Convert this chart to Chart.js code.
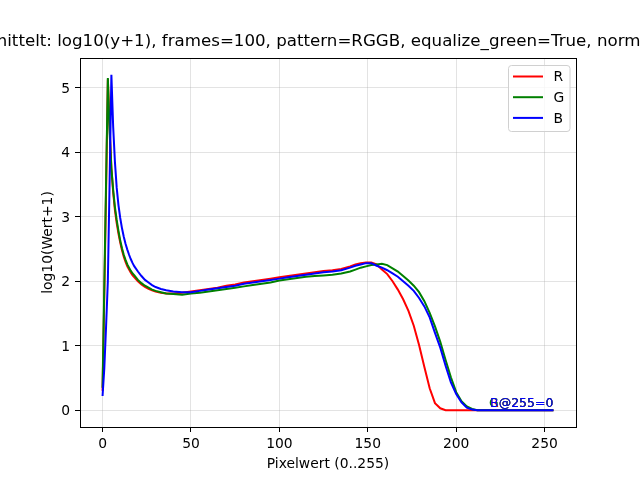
<!DOCTYPE html>
<html>
<head>
<meta charset="utf-8">
<title>Histogramm gemittelt</title>
<script src="https://cdn.jsdelivr.net/npm/chart.js@4.4.1/dist/chart.umd.min.js"></script>
<style>
  html, body { margin: 0; padding: 0; background: #fff; }
  #wrap { width: 640px; height: 480px; }
</style>
</head>
<body>
<div id="wrap"><canvas id="histChart"></canvas></div>
<script>
// ------------------------------------------------------------
// Data (pixel value -> log10(count+1))
// ------------------------------------------------------------
const pixelValues = [
    0, 1, 2, 3, 4, 5, 6, 7, 8, 9, 10, 11, 12, 13, 14, 15, 16, 17, 18, 20,
    22, 24, 26, 28, 30, 33, 36, 40, 45, 50, 55, 60, 65, 70, 75, 80, 85, 90, 95, 100,
    105, 110, 115, 120, 125, 130, 135, 140, 143, 146, 149, 152, 155, 158, 161, 164, 167, 170, 173, 176,
    179, 182, 185, 188, 191, 194, 197, 200, 203, 206, 209, 212, 215, 220, 230, 240, 250, 255
];
const redValues = [
    0.30, 1.80, 3.40, 5.13, 4.40, 3.75, 3.38, 3.10, 2.90, 2.74, 2.60, 2.48, 2.38, 2.30, 2.23, 2.18, 2.13, 2.09, 2.06, 2.00,
    1.95, 1.91, 1.88, 1.86, 1.84, 1.82, 1.81, 1.81, 1.82, 1.84, 1.86, 1.88, 1.90, 1.93, 1.95, 1.98, 2.00, 2.02, 2.04, 2.06,
    2.08, 2.10, 2.12, 2.14, 2.16, 2.17, 2.19, 2.23, 2.26, 2.28, 2.29, 2.29, 2.26, 2.18, 2.11, 2.00, 1.87, 1.72, 1.54, 1.31,
    1.01, 0.67, 0.34, 0.11, 0.03, 0, 0, 0, 0, 0, 0, 0, 0, 0, 0, 0, 0, 0
];
const greenValues = [
    0.35, 1.95, 3.55, 5.15, 4.30, 3.75, 3.42, 3.15, 2.95, 2.78, 2.63, 2.51, 2.41, 2.33, 2.26, 2.21, 2.16, 2.12, 2.09, 2.02,
    1.97, 1.93, 1.90, 1.87, 1.85, 1.83, 1.81, 1.80, 1.79, 1.81, 1.82, 1.84, 1.86, 1.88, 1.90, 1.92, 1.94, 1.96, 1.98, 2.01,
    2.03, 2.05, 2.07, 2.08, 2.09, 2.10, 2.12, 2.15, 2.18, 2.21, 2.23, 2.25, 2.26, 2.27, 2.25, 2.20, 2.15, 2.08, 2.01, 1.93,
    1.83, 1.69, 1.51, 1.30, 1.06, 0.78, 0.51, 0.28, 0.14, 0.06, 0.02, 0, 0, 0, 0, 0, 0, 0
];
const blueValues = [
    0.22, 0.65, 1.30, 2.00, 3.55, 5.20, 4.40, 3.85, 3.45, 3.18, 2.98, 2.82, 2.69, 2.58, 2.49, 2.41, 2.34, 2.28, 2.23, 2.15,
    2.08, 2.02, 1.98, 1.94, 1.91, 1.88, 1.86, 1.84, 1.83, 1.83, 1.85, 1.87, 1.89, 1.91, 1.93, 1.96, 1.98, 2.00, 2.02, 2.04,
    2.06, 2.08, 2.10, 2.12, 2.14, 2.15, 2.17, 2.21, 2.24, 2.26, 2.28, 2.28, 2.24, 2.21, 2.17, 2.12, 2.07, 2.00, 1.93, 1.85,
    1.74, 1.61, 1.44, 1.20, 0.97, 0.69, 0.43, 0.25, 0.12, 0.04, 0.01, 0, 0, 0, 0, 0, 0, 0
];

const channelNames = ['R', 'G', 'B'];
const channelColors = ['#ff0000', '#008000', '#0000ff'];
const channelValues = [redValues, greenValues, blueValues];

const xTicks = [0, 50, 100, 150, 200, 250];
const yTicks = [0, 1, 2, 3, 4, 5];

const titleText = 'Histogramm gemittelt: log10(y+1), frames=100, pattern=RGGB, equalize_green=True, norm=max';
const xLabel = 'Pixelwert (0..255)';
const yLabel = 'log10(Wert+1)';

const FONT = "'DejaVu Sans', 'Liberation Sans', sans-serif";

// matplotlib-like extras: frame, title, axis labels, legend and end-value notes
const mplDecor = {
    id: 'mplDecor',
    afterDraw(chart) {
        const { ctx, chartArea: a, scales } = chart;
        ctx.save();

        // full box round the axes
        ctx.strokeStyle = '#000';
        ctx.lineWidth = 1;
        ctx.strokeRect(a.left + 0.5, a.top + 0.5, a.right - a.left, a.bottom - a.top);

        // title, clipped by the canvas on both sides like the original
        ctx.fillStyle = '#000';
        ctx.font = `16.67px ${FONT}`;
        ctx.textAlign = 'left';
        ctx.textBaseline = 'alphabetic';
        const prefixW = ctx.measureText('Histogramm ge').width;
        ctx.fillText(titleText, -9 - prefixW, 45.5);

        // axis labels
        ctx.font = `13.89px ${FONT}`;
        ctx.textAlign = 'center';
        ctx.fillText(xLabel, (a.left + a.right) / 2, 468);
        ctx.save();
        ctx.translate(48.5, (a.top + a.bottom) / 2);
        ctx.rotate(-Math.PI / 2);
        ctx.textBaseline = 'middle';
        ctx.fillText(yLabel, 0, 0);
        ctx.restore();

        // value at 255 for each channel
        ctx.font = `12.5px ${FONT}`;
        ctx.textAlign = 'right';
        ctx.textBaseline = 'alphabetic';
        const lastX = pixelValues[pixelValues.length - 1];
        channelValues.forEach((vals, i) => {
            const raw = Math.round(Math.pow(10, vals[vals.length - 1]) - 1);
            ctx.fillStyle = channelColors[i];
            ctx.fillText(`${channelNames[i]}@${lastX}=${raw}`,
                scales.x.getPixelForValue(lastX), scales.y.getPixelForValue(0) - 3);
        });

        // legend box, upper right
        const bx = a.right - 67.5, by = a.top + 7.5, bw = 61.5, bh = 66;
        ctx.beginPath();
        ctx.roundRect(bx, by, bw, bh, 3);
        ctx.fillStyle = 'rgba(255,255,255,0.8)';
        ctx.fill();
        ctx.strokeStyle = '#d0d0d0';
        ctx.lineWidth = 1;
        ctx.stroke();
        ctx.font = `13.89px ${FONT}`;
        ctx.textAlign = 'left';
        ctx.textBaseline = 'middle';
        channelNames.forEach((name, i) => {
            const ly = by + 11 + i * 20.7;
            ctx.strokeStyle = channelColors[i];
            ctx.lineWidth = 2;
            ctx.beginPath();
            ctx.moveTo(bx + 4.5, ly);
            ctx.lineTo(bx + 34.5, ly);
            ctx.stroke();
            ctx.fillStyle = '#000';
            ctx.fillText(name, bx + 45, ly + 1);
        });

        ctx.restore();
    }
};

const tickFont = { family: FONT, size: 13.89 };
const gridStyle = { color: 'rgba(176,176,176,0.35)', lineWidth: 1, tickColor: '#000', tickLength: 5 };

new Chart(document.getElementById('histChart'), {
    type: 'line',
    data: {
        datasets: channelNames.map((name, i) => ({
            label: name,
            data: pixelValues.map((x, k) => ({ x, y: channelValues[i][k] })),
            borderColor: channelColors[i],
            backgroundColor: channelColors[i],
            borderWidth: 2,
            pointRadius: 0,
            tension: 0,
            fill: false,
            order: 3 - i,
        })),
    },
    options: {
        responsive: true,
        maintainAspectRatio: false,
        animation: false,
        layout: { padding: { left: 0, right: 64, top: 58, bottom: 0 } },
        plugins: { legend: { display: false }, tooltip: { enabled: false }, title: { display: false } },
        scales: {
            x: {
                type: 'linear',
                min: -12.75,
                max: 267.75,
                afterBuildTicks: s => { s.ticks = xTicks.map(v => ({ value: v })); },
                afterFit: s => { s.height = 53; },
                ticks: { font: tickFont, color: '#000', padding: 4.5, autoSkip: false, maxRotation: 0 },
                grid: gridStyle,
                border: { display: false },
            },
            y: {
                type: 'linear',
                min: -0.26,
                max: 5.46,
                afterBuildTicks: s => { s.ticks = yTicks.map(v => ({ value: v })); },
                afterFit: s => { s.width = 80; },
                ticks: { font: tickFont, color: '#000', padding: 5, labelOffset: 1.5 },
                grid: gridStyle,
                border: { display: false },
            },
        },
    },
    plugins: [mplDecor],
});
</script>
</body>
</html>
